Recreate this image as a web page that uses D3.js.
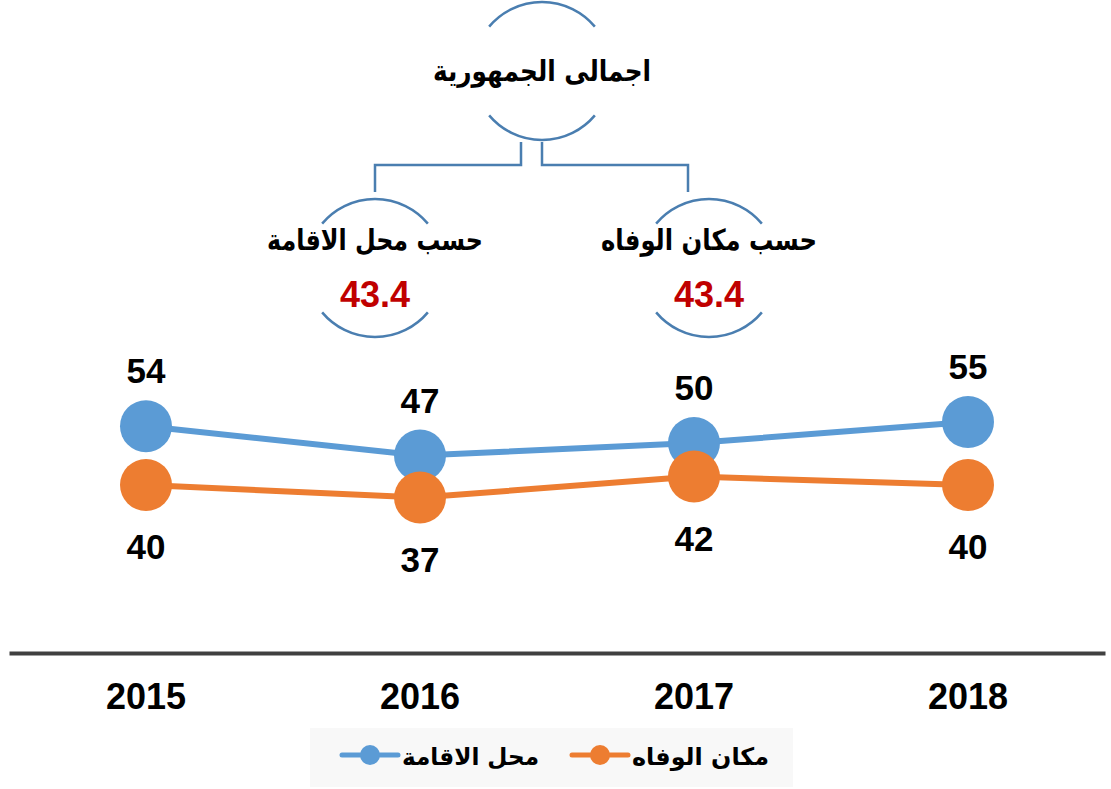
<!DOCTYPE html>
<html>
<head>
<meta charset="utf-8">
<script src="https://cdn.jsdelivr.net/npm/d3@7"></script>
<style>
  body { margin: 0; background: #fff; }
  text { font-family: "Liberation Sans", Arial, sans-serif; font-weight: bold; }
  .ar { font-family: "DejaVu Sans", Arial, sans-serif; }
</style>
</head>
<body>
<div id="chart"></div>
<script>
const years = ["2015", "2016", "2017", "2018"];
const residence = [54, 47, 50, 55];   // محل الاقامة
const deathPlace = [40, 37, 42, 40];  // مكان الوفاه
const seriesNames = ["محل الاقامة", "مكان الوفاه"];
const totalTitle = "اجمالى الجمهورية";
const branchTitles = ["حسب محل الاقامة", "حسب مكان الوفاه"];
const branchValues = ["43.4", "43.4"];

const W = 1111, H = 789;
const colors = ["#5B9BD5", "#ED7D31"];
const arcColor = "#4A7EB0";

const svg = d3.select("#chart").append("svg")
    .attr("width", W)
    .attr("height", H);

const x = d3.scaleBand().domain(years).range([9, 1105]);
const y = d3.scaleLinear().domain([0, 100]).range([653, 233]);

//top diagram: circle made of two arcs, text inside
function circleArcs(cx, cy, r) {
    const deg = Math.PI / 180;
    [[-140, -40], [40, 140]].forEach(([a0, a1]) => {
        const p = d3.path();
        p.arc(cx, cy, r, a0 * deg, a1 * deg);
        svg.append("path")
            .attr("d", p.toString())
            .attr("fill", "none")
            .attr("stroke", arcColor)
            .attr("stroke-width", 2.5);
    });
}

circleArcs(542, 71, 69);
svg.append("text")
    .attr("class", "ar")
    .attr("x", 542).attr("y", 81)
    .attr("text-anchor", "middle")
    .attr("font-size", 29)
    .attr("textLength", 218)
    .attr("lengthAdjust", "spacingAndGlyphs")
    .attr("fill", "#000")
    .text(totalTitle);

//connectors
const connectors = [
    [[521, 142], [521, 165], [375, 165], [375, 192]],
    [[542, 142], [542, 165], [688, 165], [688, 192]]
];
connectors.forEach(pts => {
    svg.append("path")
        .attr("d", d3.line()(pts))
        .attr("fill", "none")
        .attr("stroke", arcColor)
        .attr("stroke-width", 2.5);
});

const branchX = [375, 709];
branchTitles.forEach((t, i) => {
    circleArcs(branchX[i], 268, 69);
    svg.append("text")
        .attr("class", "ar")
        .attr("x", branchX[i]).attr("y", 250)
        .attr("text-anchor", "middle")
        .attr("font-size", 29)
        .attr("textLength", 216)
        .attr("lengthAdjust", "spacingAndGlyphs")
        .attr("fill", "#000")
        .text(t);
    svg.append("text")
        .attr("x", branchX[i]).attr("y", 307)
        .attr("text-anchor", "middle")
        .attr("font-size", 36)
        .attr("fill", "#C00000")
        .text(branchValues[i]);
});

//axis
const xAxis = svg.append("g")
    .attr("transform", `translate(0, ${y(0)})`)
    .call(d3.axisBottom(x).tickSize(0).tickPadding(30));
xAxis.select(".domain")
    .attr("stroke", "#404040")
    .attr("stroke-width", 4);
xAxis.selectAll("text")
    .attr("font-size", 36)
    .attr("fill", "#000")
    .style("font-family", '"Liberation Sans", Arial, sans-serif')
    .style("font-weight", "bold");

//series
const series = [residence, deathPlace];
const line = d3.line()
    .x((d, i) => x(years[i]) + x.bandwidth() / 2)
    .y(d => y(d));

series.forEach((vals, s) => {
    svg.append("path")
        .attr("d", line(vals))
        .attr("fill", "none")
        .attr("stroke", colors[s])
        .attr("stroke-width", 6);
});

series.forEach((vals, s) => {
    const g = svg.append("g");
    g.selectAll("circle")
        .data(vals)
        .join("circle")
        .attr("cx", (d, i) => x(years[i]) + x.bandwidth() / 2)
        .attr("cy", d => y(d))
        .attr("r", 26)
        .attr("fill", colors[s]);
    g.selectAll("text")
        .data(vals)
        .join("text")
        .attr("x", (d, i) => x(years[i]) + x.bandwidth() / 2)
        .attr("y", d => s === 0 ? y(d) - 43 : y(d) + 74)
        .attr("text-anchor", "middle")
        .attr("font-size", 35)
        .attr("fill", "#000")
        .text(d => d);
});

//legend
const legend = svg.append("g");
legend.append("rect")
    .attr("x", 310).attr("y", 728)
    .attr("width", 483).attr("height", 59)
    .attr("fill", "#F8F8F8");

const legendItems = [
    { x: 342, text: seriesNames[0], color: colors[0] },
    { x: 572, text: seriesNames[1], color: colors[1] }
];
legendItems.forEach(d => {
    legend.append("line")
        .attr("x1", d.x).attr("x2", d.x + 56)
        .attr("y1", 755).attr("y2", 755)
        .attr("stroke", d.color)
        .attr("stroke-width", 5)
        .attr("stroke-linecap", "round");
    legend.append("circle")
        .attr("cx", d.x + 28).attr("cy", 755)
        .attr("r", 10)
        .attr("fill", d.color);
    legend.append("text")
        .attr("class", "ar")
        .attr("x", d.x + 60).attr("y", 765)
        .attr("text-anchor", "start")
        .attr("font-size", 24)
        .attr("textLength", 137)
        .attr("lengthAdjust", "spacingAndGlyphs")
        .attr("fill", "#000")
        .text(d.text);
});
</script>
</body>
</html>
